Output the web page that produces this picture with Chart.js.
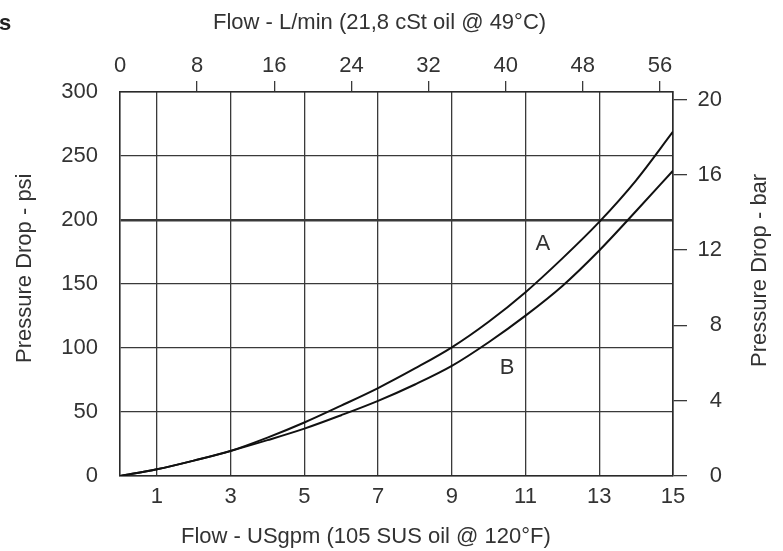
<!DOCTYPE html>
<html>
<head>
<meta charset="utf-8">
<title>Pressure Drop</title>
<script src="https://cdn.jsdelivr.net/npm/chart.js@4.4.1/dist/chart.umd.min.js"></script>
<style>
  html, body { margin: 0; padding: 0; background: #fff; }
  .chart-container { position: relative; width: 783px; height: 551px; }
</style>
</head>
<body>
<div class="chart-container">
  <canvas id="chart"></canvas>
</div>
<script>
// flow in US gpm and pressure drop in psi
const flowGpm = [0, 1, 2, 3, 4, 5, 6, 7, 8, 9, 10, 11, 12, 13, 14, 15];
const dropA = [0, 5.2, 12, 19.6, 30, 41.8, 55, 68.7, 84, 100.5, 120.5, 143.6, 170, 198.5, 231, 269];
const dropB = [0, 5.2, 12, 19.6, 28, 37, 47.5, 58.7, 71.5, 86, 104.5, 125.3, 148.5, 176.2, 207, 238.5];

const curveNames = ['A', 'B'];
const curveLabelFlow = [11.47, 10.5];
const curveLabelPsi = [181, 84.6];

const gpmTicks = [1, 3, 5, 7, 9, 11, 13, 15];
const lpmTicks = [0, 8, 16, 24, 32, 40, 48, 56];
const psiTicks = [0, 50, 100, 150, 200, 250, 300];
const barTicks = [0, 4, 8, 12, 16, 20];

const bottomTitle = 'Flow - USgpm (105 SUS oil @ 120°F)';
const topTitle = 'Flow - L/min (21,8 cSt oil @ 49°C)';
const leftTitle = 'Pressure Drop - psi';
const rightTitle = 'Pressure Drop - bar';

const FONT = "'Liberation Sans', Arial, sans-serif";
const TEXT = '#333';
const GRID = '#3a3a3a';
const FRAME = '#2a2a2a';

const setTicks = (list) => (scale) => { scale.ticks = list.map(v => ({ value: v })); };

const ctx = document.getElementById('chart').getContext('2d');

new Chart(ctx, {
  type: 'line',
  data: {
    datasets: [
      {
        label: 'A',
        data: flowGpm.map((x, i) => ({ x: x, y: dropA[i] })),
        borderColor: '#111',
        borderWidth: 2,
        pointRadius: 0,
        cubicInterpolationMode: 'monotone',
        xAxisID: 'x',
        yAxisID: 'y'
      },
      {
        label: 'B',
        data: flowGpm.map((x, i) => ({ x: x, y: dropB[i] })),
        borderColor: '#111',
        borderWidth: 2,
        pointRadius: 0,
        cubicInterpolationMode: 'monotone',
        xAxisID: 'x',
        yAxisID: 'y'
      }
    ]
  },
  options: {
    responsive: true,
    maintainAspectRatio: false,
    animation: false,
    layout: { padding: { left: 0, right: 61, top: 0, bottom: 0 } },
    plugins: {
      legend: { display: false },
      tooltip: { enabled: false }
    },
    scales: {
      x: {
        type: 'linear',
        position: 'bottom',
        min: 0,
        max: 15,
        afterBuildTicks: setTicks(gpmTicks),
        afterFit(scale) { scale.height = 75; },
        ticks: {
          color: TEXT,
          font: { family: FONT, size: 22 },
          padding: 8,
          maxRotation: 0,
          callback: (v) => v
        },
        grid: { color: GRID, lineWidth: 1.3, drawTicks: false },
        border: { display: true, color: FRAME, width: 1.6 }
      },
      x2: {
        type: 'linear',
        position: 'top',
        min: 0,
        max: 57.35,
        afterBuildTicks: setTicks(lpmTicks),
        afterFit(scale) { scale.height = 92; },
        ticks: {
          color: TEXT,
          font: { family: FONT, size: 22 },
          padding: 2,
          maxRotation: 0,
          callback: (v) => v
        },
        grid: {
          drawOnChartArea: false,
          drawTicks: true,
          tickLength: 11,
          lineWidth: 1.3,
          color: (c) => (c.tick && c.tick.value === 0 ? 'rgba(0,0,0,0)' : GRID)
        },
        border: { display: true, color: FRAME, width: 1.6 }
      },
      y: {
        type: 'linear',
        position: 'left',
        min: 0,
        max: 300,
        afterBuildTicks: setTicks(psiTicks),
        afterFit(scale) { scale.width = 120; },
        ticks: {
          color: TEXT,
          font: { family: FONT, size: 22 },
          padding: 22,
          callback: (v) => v
        },
        grid: {
          color: GRID,
          drawTicks: false,
          lineWidth: (c) => (c.tick && c.tick.value === 200 ? 2.4 : 1.3)
        },
        border: { display: true, color: FRAME, width: 1.6 }
      },
      y2: {
        type: 'linear',
        position: 'right',
        min: 0,
        max: 20.4,
        afterBuildTicks: setTicks(barTicks),
        afterFit(scale) { scale.width = 49; },
        ticks: {
          color: TEXT,
          font: { family: FONT, size: 22 },
          padding: 10,
          crossAlign: 'far',
          callback: (v) => v
        },
        grid: {
          drawOnChartArea: false,
          drawTicks: true,
          tickLength: 14,
          lineWidth: 1.3,
          color: GRID
        },
        border: { display: true, color: FRAME, width: 1.6 }
      }
    }
  },
  plugins: [
    {
      id: 'titlesAndNames',
      afterDraw(chart) {
        const c = chart.ctx;
        const xs = chart.scales.x;
        const ys = chart.scales.y;
        c.save();
        c.fillStyle = TEXT;
        c.font = '22px ' + FONT;
        c.textBaseline = 'alphabetic';
        c.textAlign = 'left';
        c.fillText(topTitle, 213, 29);
        c.fillText(bottomTitle, 181, 543);

        // curve names placed in data space
        c.textAlign = 'center';
        c.textBaseline = 'middle';
        curveNames.forEach((name, i) => {
          c.fillText(name, xs.getPixelForValue(curveLabelFlow[i]), ys.getPixelForValue(curveLabelPsi[i]));
        });

        // side titles read bottom to top
        c.textAlign = 'left';
        c.textBaseline = 'alphabetic';
        c.save();
        c.translate(31, 363);
        c.rotate(-Math.PI / 2);
        c.fillText(leftTitle, 0, 0);
        c.restore();
        c.save();
        c.translate(766, 367);
        c.rotate(-Math.PI / 2);
        c.fillText(rightTitle, 0, 0);
        c.restore();

        // cut-off heading in the corner
        c.fillStyle = '#222';
        c.font = 'bold 22px ' + FONT;
        c.fillText('s', -1, 30);
        c.restore();
      }
    }
  ]
});
</script>
</body>
</html>
